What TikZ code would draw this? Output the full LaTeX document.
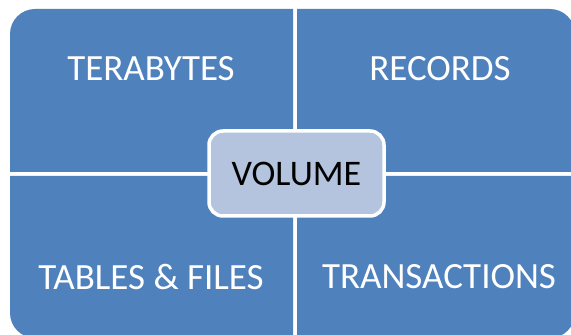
\documentclass[tikz,border=0pt]{standalone}
\usepackage{fontspec}
\setmainfont{Carlito}
\definecolor{quadblue}{HTML}{4F81BD}
\definecolor{hubfill}{HTML}{B4C3DE}
\begin{document}
\begin{tikzpicture}[x=1pt,y=1pt,
  quad/.style={fill=quadblue},
  quadtext/.style={text=white,font=\fontsize{37}{42}\selectfont},
  hub/.style={draw=white,line width=3.5pt,fill=hubfill,rounded corners=14pt,
    minimum width=175pt,minimum height=85pt,inner sep=0pt,
    font=\fontsize{36}{41}\selectfont,text=black}]
  \useasboundingbox (0,0) rectangle (571,335);
  % four quadrants, each with its outer corner rounded
  \fill[quad] (10,163) -- (10,301) arc[start angle=180,end angle=90,radius=25] -- (293,326) -- (293,163) -- cycle;
  \fill[quad] (297,163) -- (297,326) -- (550,326) arc[start angle=90,end angle=0,radius=25] -- (575,163) -- cycle;
  \fill[quad] (10,159) -- (10,22) arc[start angle=180,end angle=270,radius=25] -- (293,-3) -- (293,159) -- cycle;
  \fill[quad] (297,159) -- (297,-3) -- (550,-3) arc[start angle=270,end angle=360,radius=25] -- (575,159) -- cycle;
  % quadrant labels
  \node[quadtext] (tb) at (151,266) {TERABYTES};
  \node[quadtext] (rec) at (440,266) {RECORDS};
  \node[quadtext] (tf) at (151,58) {TABLES \& FILES};
  \node[quadtext] (tr) at (439,58) {TRANSACTIONS};
  % central hub
  \node[hub] (vol) at (296.5,161.5) {VOLUME};
\end{tikzpicture}
\end{document}
